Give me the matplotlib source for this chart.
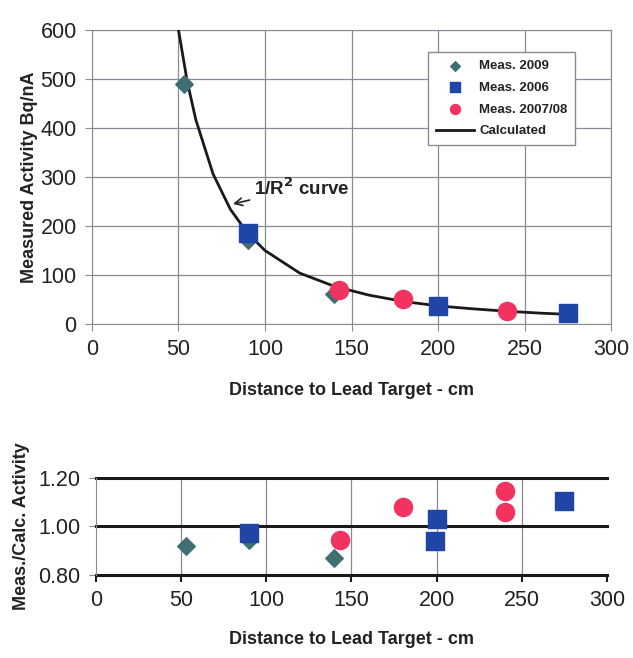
import matplotlib.pyplot as plt

plt.rcParams['font.family'] = ['Liberation Sans', 'DejaVu Sans']

# top panel: measured activity
x_2009 = [53, 90, 140]
y_2009 = [490, 172, 62]
x_2006 = [90, 200, 275]
y_2006 = [185, 37, 22]
x_0708 = [143, 180, 240]
y_0708 = [70, 50, 27]
x_calc = [50, 55, 60, 70, 80, 90, 100, 120, 140, 160, 180, 200, 220, 240, 260, 280]
y_calc = [600, 496, 417, 306, 234, 185, 150, 104, 77, 59, 46, 37, 31, 26, 22, 19]

# bottom panel: meas./calc. ratio
rx_2009 = [53, 90, 140]
ry_2009 = [0.92, 0.945, 0.87]
rx_2006 = [90, 200, 199, 275]
ry_2006 = [0.975, 1.03, 0.94, 1.105]
rx_0708 = [143, 180, 240, 240]
ry_0708 = [0.945, 1.08, 1.145, 1.06]

c_dia = '#3f6f72'
c_sq = '#1f45a6'
c_circ = '#f2325f'
grid_c = '#8a8a96'

fig = plt.figure(figsize=(6.33, 6.58), dpi=100)

# ---- top chart
ax = fig.add_axes([0.1453, 0.5076, 0.82, 0.4468])
ax.plot(x_calc, y_calc, color='#1a1a1a', lw=2, label='Calculated', zorder=3)
ax.scatter(x_2009, y_2009, marker='D', s=80, color=c_dia, label='Meas. 2009', zorder=4)
ax.scatter(x_2006, y_2006, marker='s', s=150, color=c_sq, label='Meas. 2006', zorder=4)
ax.scatter(x_0708, y_0708, marker='o', s=170, color=c_circ, label='Meas. 2007/08', zorder=5)
ax.set_xlim(0, 300)
ax.set_ylim(0, 600)
ax.set_xticks(range(0, 301, 50))
ax.set_yticks(range(0, 601, 100))
ax.grid(True, color=grid_c, lw=0.9)
ax.set_axisbelow(True)
for s in ax.spines.values():
    s.set_color(grid_c)
ax.tick_params(labelsize=15.5, colors='#222222', length=5, color=grid_c, pad=6)
ax.set_xlabel('Distance to Lead Target - cm', fontsize=13, fontweight='bold',
              color='#222222', labelpad=16)
ax.set_ylabel('Measured Activity Bq/nA', fontsize=13, fontweight='bold',
              color='#222222', labelpad=2)

handles, labels = ax.get_legend_handles_labels()
order = [1, 2, 3, 0]
leg = ax.legend([handles[i] for i in order], [labels[i] for i in order],
                loc='upper right', bbox_to_anchor=(0.931, 0.925),
                prop={'weight': 'bold', 'size': 9.5}, fancybox=False,
                framealpha=1, edgecolor=grid_c, handlelength=2.9,
                handletextpad=0.4, borderpad=0.6, labelspacing=0.72,
                markerscale=0.55, borderaxespad=0)
leg.get_frame().set_linewidth(1)
for t in leg.get_texts():
    t.set_color('#222222')

ax.annotate('1/R$^{\\mathbf{2}}$ curve', xy=(81.5, 245), xytext=(93.5, 278),
            fontsize=13.5, fontweight='bold', color='#222222', va='center',
            arrowprops=dict(arrowstyle='->', color='#222222', lw=1.2,
                            shrinkA=1, shrinkB=0))

# ---- bottom chart
bx = fig.add_axes([0.1517, 0.1261, 0.807, 0.1475])
bx.scatter(rx_2009, ry_2009, marker='D', s=80, color=c_dia, zorder=4)
bx.scatter(rx_2006, ry_2006, marker='s', s=150, color=c_sq, zorder=4)
bx.scatter(rx_0708, ry_0708, marker='o', s=170, color=c_circ, zorder=5)
bx.set_xlim(0, 300)
bx.set_ylim(0.8, 1.2)
bx.set_xticks(range(0, 301, 50))
bx.set_yticks([0.8, 1.0, 1.2])
bx.set_yticklabels(['0.80', '1.00', '1.20'])
for xv in range(50, 300, 50):
    bx.axvline(xv, color=grid_c, lw=0.9, zorder=1)
for yv in [0.8, 1.0, 1.2]:
    bx.axhline(yv, color='#1a1a1a', lw=2.2, zorder=2, clip_on=False)
bx.spines['top'].set_visible(False)
bx.spines['right'].set_visible(False)
bx.spines['bottom'].set_visible(False)
bx.spines['left'].set_color(grid_c)
bx.tick_params(labelsize=15.5, colors='#222222', length=5, color=grid_c, pad=6)
bx.tick_params(axis='x', color='#1a1a1a', width=1.5)
bx.set_xlabel('Distance to Lead Target - cm', fontsize=13, fontweight='bold',
              color='#222222', labelpad=14)
bx.set_ylabel('Meas./Calc. Activity', fontsize=13, fontweight='bold',
              color='#222222', labelpad=6)

fig.savefig('out.png', dpi=100)
